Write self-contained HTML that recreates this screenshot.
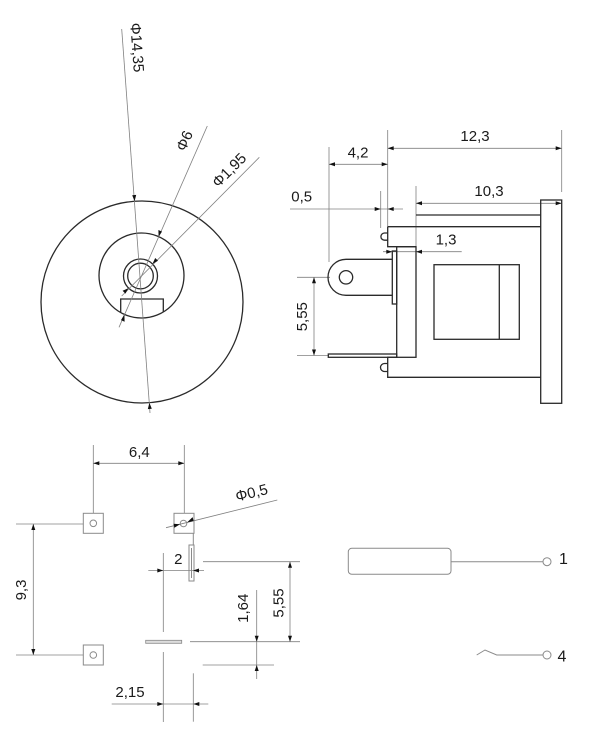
<!DOCTYPE html>
<html><head><meta charset="utf-8"><style>
html,body{margin:0;padding:0;background:#fff;}
svg{display:block;}
text{font-family:"Liberation Sans",sans-serif;fill:#1a1a1a;font-size:15px;}
.o{stroke:#2a2a2a;stroke-width:1.3;fill:none;}
.d{stroke:#808080;stroke-width:0.8;fill:none;}
.p{stroke:#8a8a8a;stroke-width:1;fill:none;}
.a{fill:#111;stroke:none;}
</style></head><body>
<svg width="600" height="736" viewBox="0 0 600 736" xmlns="http://www.w3.org/2000/svg">

<!-- ===== Front (circle) view ===== -->
<circle class="o" cx="142" cy="302" r="101"/>
<circle class="o" cx="141.5" cy="275.5" r="42.5"/>
<circle class="o" cx="140.5" cy="276" r="17"/>
<circle class="o" cx="140.5" cy="276" r="12.8"/>
<path class="o" d="M120.7,312.6 V299 H163.3 V312"/>

<line class="d" x1="121.7" y1="29" x2="150" y2="413"/>
<line class="d" x1="207.3" y1="126" x2="119" y2="327.3"/>
<line class="d" x1="259.3" y1="157.3" x2="121.7" y2="296"/>

<polygon class="a" points="134.6,201.3 132.2,195.2 136.2,194.9"/>
<polygon class="a" points="149.4,402.7 147.8,409.1 151.8,408.8"/>
<polygon class="a" points="158.6,236.6 158.4,230 162,231.6"/>
<polygon class="a" points="124.4,314.4 121,320.1 124.6,321.7"/>
<polygon class="a" points="152.5,263.9 155.2,258 158,260.8"/>
<polygon class="a" points="128.5,288.1 122.6,290.8 125.4,293.6"/>

<text transform="translate(136.5,47.5) rotate(85.8)" text-anchor="middle" dominant-baseline="central">Φ14,35</text>
<text transform="translate(185,141) rotate(-66.3)" text-anchor="middle" dominant-baseline="central">Φ6</text>
<text transform="translate(229.5,170.5) rotate(-45.2)" text-anchor="middle" dominant-baseline="central">Φ1,95</text>

<!-- ===== Side view ===== -->
<line class="d" x1="387.7" y1="130" x2="387.7" y2="227"/>
<line class="d" x1="561.7" y1="130" x2="561.7" y2="192"/>
<line class="d" x1="387.7" y1="148.3" x2="561.7" y2="148.3"/>
<polygon class="a" points="387.7,148.3 393.7,146.3 393.7,150.3"/>
<polygon class="a" points="561.7,148.3 555.7,146.3 555.7,150.3"/>
<text x="475" y="141" text-anchor="middle">12,3</text>

<line class="d" x1="329" y1="147" x2="329" y2="262"/>
<line class="d" x1="329" y1="164.3" x2="387.7" y2="164.3"/>
<polygon class="a" points="329,164.3 335,162.3 335,166.3"/>
<polygon class="a" points="387.7,164.3 381.7,162.3 381.7,166.3"/>
<text x="358" y="157.5" text-anchor="middle">4,2</text>

<line class="d" x1="380.7" y1="191" x2="380.7" y2="228"/>
<line class="d" x1="290" y1="209" x2="403" y2="209"/>
<polygon class="a" points="380.7,209 374.7,207 374.7,211"/>
<polygon class="a" points="387.7,209 393.7,207 393.7,211"/>
<text x="301.7" y="201.5" text-anchor="middle">0,5</text>

<line class="d" x1="416" y1="186" x2="416" y2="247"/>
<line class="d" x1="416" y1="203.3" x2="561.7" y2="203.3"/>
<polygon class="a" points="416,203.3 422,201.3 422,205.3"/>
<polygon class="a" points="561.7,203.3 555.7,201.3 555.7,205.3"/>
<text x="489" y="196" text-anchor="middle">10,3</text>

<line class="d" x1="383" y1="251.7" x2="461.7" y2="251.7"/>
<polygon class="a" points="392.3,251.7 386.3,249.7 386.3,253.7"/>
<polygon class="a" points="416,251.7 422,249.7 422,253.7"/>
<text x="446" y="244.5" text-anchor="middle">1,3</text>

<line class="d" x1="297" y1="277.3" x2="330" y2="277.3"/>
<line class="d" x1="297" y1="355.5" x2="329" y2="355.5"/>
<line class="d" x1="314" y1="277.3" x2="314" y2="355.5"/>
<polygon class="a" points="314,277.3 312,283.3 316,283.3"/>
<polygon class="a" points="314,355.5 312,349.5 316,349.5"/>
<text transform="translate(302.7,316.7) rotate(-90)" text-anchor="middle" dominant-baseline="central">5,55</text>

<line class="o" x1="416" y1="215" x2="540.7" y2="215"/>
<line class="o" x1="387.7" y1="226.7" x2="540.7" y2="226.7"/>
<path class="o" d="M387.7,226.7 V246.7 H416"/>
<rect class="o" x="396.7" y="246.7" width="19.3" height="110.6"/>
<path class="o" d="M396.7,357.3 H387.7 V377.3 H540.7"/>
<path class="o" d="M387.7,233 H384.5 A3.6,3.6 0 0 0 384.5,240.2 H387.7"/>
<path class="o" d="M387.7,363.5 H384.5 A4,4 0 0 0 384.5,371.5 H387.7"/>
<path class="o" d="M392.3,259.3 H346 A18,18 0 0 0 346,295.3 H392.3"/>
<circle class="o" cx="346" cy="277.3" r="6.7"/>
<rect class="o" x="392.3" y="251" width="4.4" height="53"/>
<rect class="o" x="328.3" y="354" width="68.4" height="3.3"/>
<rect class="o" x="434" y="264.7" width="85.3" height="74.6"/>
<line class="o" x1="499.3" y1="264.7" x2="499.3" y2="339.3"/>
<rect class="o" x="540.7" y="200" width="21" height="203.3"/>

<!-- ===== Footprint ===== -->
<line class="d" x1="93.3" y1="445" x2="93.3" y2="513.3"/>
<line class="d" x1="184.3" y1="445" x2="184.3" y2="513.3"/>
<line class="d" x1="93.3" y1="463.3" x2="184.3" y2="463.3"/>
<polygon class="a" points="93.3,463.3 99.3,461.3 99.3,465.3"/>
<polygon class="a" points="184.3,463.3 178.3,461.3 178.3,465.3"/>
<text x="139.3" y="457" text-anchor="middle">6,4</text>

<rect class="p" x="83.3" y="513.3" width="20" height="20"/>
<circle class="p" cx="93.3" cy="523.3" r="3.3"/>
<rect class="p" x="174" y="513.3" width="20" height="20"/>
<circle class="p" cx="183.5" cy="523.5" r="3.3"/>
<rect class="p" x="83.3" y="645" width="20" height="20"/>
<circle class="p" cx="93.3" cy="655" r="3.3"/>

<line class="d" x1="166" y1="527.7" x2="277.3" y2="500"/>
<polygon class="a" points="180,524.3 174.4,527.7 173.5,523.8"/>
<polygon class="a" points="187,522.5 193.6,521 192.6,517.1"/>
<text transform="translate(251.7,493.3) rotate(-14)" text-anchor="middle" dominant-baseline="central">Φ0,5</text>

<line class="p" x1="193.3" y1="533.3" x2="193.3" y2="545"/>
<rect class="p" x="189" y="545" width="5" height="36"/>
<line class="p" x1="191.5" y1="548" x2="191.5" y2="578"/>

<line class="d" x1="163.3" y1="553" x2="163.3" y2="632"/>
<line class="d" x1="163.3" y1="652" x2="163.3" y2="722"/>
<line class="d" x1="148.3" y1="570.5" x2="204" y2="570.5"/>
<polygon class="a" points="163.3,570.5 157.3,568.5 157.3,572.5"/>
<polygon class="a" points="193,570.5 199,568.5 199,572.5"/>
<text x="178.3" y="564" text-anchor="middle">2</text>

<rect x="145.7" y="640.3" width="36" height="3" fill="#ddd" stroke="#888" stroke-width="0.8"/>

<line class="d" x1="203" y1="561.7" x2="300" y2="561.7"/>
<line class="d" x1="190" y1="641.7" x2="300" y2="641.7"/>
<line class="d" x1="202.7" y1="665" x2="274" y2="665"/>
<line class="d" x1="290" y1="561.7" x2="290" y2="641.7"/>
<polygon class="a" points="290,561.7 288,567.7 292,567.7"/>
<polygon class="a" points="290,641.7 288,635.7 292,635.7"/>
<line class="d" x1="256.7" y1="590" x2="256.7" y2="679"/>
<polygon class="a" points="256.7,641.7 254.7,635.7 258.7,635.7"/>
<polygon class="a" points="256.7,665 254.7,671 258.7,671"/>
<text transform="translate(243.3,608.3) rotate(-90)" text-anchor="middle" dominant-baseline="central">1,64</text>
<text transform="translate(279,603) rotate(-90)" text-anchor="middle" dominant-baseline="central">5,55</text>

<line class="d" x1="16" y1="524" x2="83.3" y2="524"/>
<line class="d" x1="16" y1="655" x2="83.3" y2="655"/>
<line class="d" x1="33.3" y1="524" x2="33.3" y2="655"/>
<polygon class="a" points="33.3,524 31.3,530 35.3,530"/>
<polygon class="a" points="33.3,655 31.3,649 35.3,649"/>
<text transform="translate(21.5,590) rotate(-90)" text-anchor="middle" dominant-baseline="central">9,3</text>

<line class="d" x1="193.3" y1="673.3" x2="193.3" y2="721.7"/>
<line class="d" x1="111.7" y1="704" x2="208.3" y2="704"/>
<polygon class="a" points="163.3,704 157.3,702 157.3,706"/>
<polygon class="a" points="193.3,704 199.3,702 199.3,706"/>
<text x="130" y="697" text-anchor="middle">2,15</text>

<!-- ===== Schematic ===== -->
<rect class="p" x="348.3" y="548.3" width="102.7" height="26" rx="3.5"/>
<line class="p" x1="451" y1="561.7" x2="543" y2="561.7"/>
<circle class="p" cx="547" cy="561.7" r="4"/>
<text x="563.5" y="564" text-anchor="middle" style="font-size:16px">1</text>
<polyline class="p" points="476.7,655 485,650 496.7,655 543,655"/>
<circle class="p" cx="547" cy="655" r="4"/>
<text x="562" y="661.5" text-anchor="middle" style="font-size:16px">4</text>
</svg>
</body></html>
